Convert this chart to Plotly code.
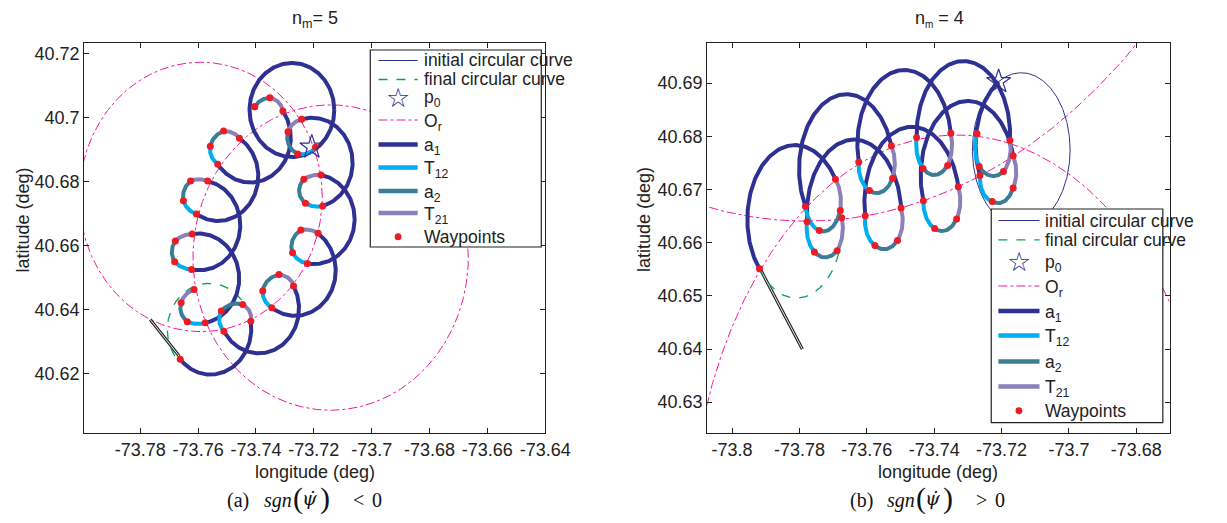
import numpy as np
import plotly.graph_objects as go

W, H = 1227, 523

# ================= Panel (a): n_m = 5  (values in degrees) =================
# coloured loop waypoints: [T21 end, T21/a2, a2/T12, T12 end]
a_loop_lon = [
    [-73.7307, -73.7352, -73.74044, -73.74044],
    [-73.72422, -73.72893, -73.72557, -73.71942],
    [-73.74572, -73.75119, -73.75579, -73.7532],
    [-73.71751, -73.72345, -73.72288, -73.71694],
    [-73.7567, -73.76261, -73.76509, -73.76059],
    [-73.76207, -73.76788, -73.76811, -73.76227],
    [-73.71852, -73.72446, -73.72735, -73.72221],
    [-73.72701, -73.73205, -73.73766, -73.73453],
    [-73.7614, -73.76586, -73.76375, -73.75757],
    [-73.74179, -73.74461, -73.75199, -73.75109],
]
a_loop_lat = [
    [40.702, 40.70615, 40.70334, 40.70334],
    [40.69941, 40.69554, 40.68858, 40.69067],
    [40.69348, 40.69576, 40.69098, 40.68537],
    [40.68203, 40.68069, 40.6732, 40.67236],
    [40.68016, 40.68016, 40.67401, 40.66986],
    [40.66362, 40.66144, 40.65498, 40.65261],
    [40.66384, 40.66487, 40.65779, 40.65448],
    [40.6474, 40.65105, 40.64584, 40.64063],
    [40.64637, 40.64219, 40.63626, 40.63595],
    [40.63648, 40.64169, 40.6396, 40.63336],
]
a_loop_clon = [-73.73497, -73.72254, -73.7484, -73.71751, -73.7578,
               -73.76116, -73.72019, -73.73027, -73.75848, -73.74639]
a_loop_clat = [40.70013, 40.69389, 40.68983, 40.67704, 40.67485,
               40.65801, 40.65925, 40.64521, 40.64116, 40.63617]
a_loop_rx = [0.00604, 0.00638, 0.00739, 0.00672, 0.00739, 0.00705, 0.00705, 0.00739, 0.00739, 0.00604]
a_loop_ry = [0.00562, 0.00562, 0.00593, 0.00499, 0.00624, 0.00562, 0.00562, 0.00593, 0.00562, 0.0053]

# a1 arcs: centre, radius, from-point, to-point (clockwise)
a_a1_clon = [-73.72058, -73.71986, -73.72652, -73.73905, -73.7563, -73.74195, -73.75315, -73.75948, -73.75982]
a_a1_clat = [40.68588, 40.66826, 40.65223, 40.64038, 40.63367, 40.69368, 40.68167, 40.66638, 40.64978]
a_a1_r = [0.01401, 0.01397, 0.0141, 0.01393, 0.01466, 0.01399, 0.01396, 0.01405, 0.01402]
a_a1_from_lon = [-73.72422, -73.71751, -73.71852, -73.72701, -73.74179, -73.7307, -73.74572, -73.7567, -73.76207]
a_a1_from_lat = [40.69941, 40.68203, 40.66384, 40.6474, 40.63648, 40.702, 40.69348, 40.68016, 40.66362]
a_a1_to_lon = [-73.71694, -73.72221, -73.73453, -73.75109, -73.7662, -73.7532, -73.76059, -73.76227, -73.75757]
a_a1_to_lat = [40.67236, 40.65448, 40.64063, 40.63336, 40.62462, 40.68537, 40.66986, 40.65261, 40.63595]
# full a1 circle at the top (initial circle, flown over)
a_full_clon = [-73.72758]
a_full_clat = [40.70231]
a_full_r = [0.01466]

a_start = (-73.7662, 40.62462)
a_p0 = (-73.7207, 40.69077)
a_final = dict(c=(-73.7563, 40.63367), r=0.01466, p_from=(-73.74494, 40.64303), p_to=(-73.76788, 40.62534))
a_or_clon = [-73.7591, -73.7142]
a_or_clat = [40.6752, 40.6563]
a_or_r = [0.042, 0.0476]
a_black_lon = [[-73.77684, -73.76677], [-73.77632, -73.76625]]
a_black_lat = [[40.63679, 40.62534], [40.63719, 40.62574]]

# ================= Panel (b): n_m = 4 =================
b_loop_lon = [
    [-73.76932, -73.76788, -73.77413, -73.77824],
    [-73.76745, -73.76883, -73.77557, -73.77775],
    [-73.75271, -73.75234, -73.75925, -73.76241],
    [-73.74984, -73.7509, -73.75761, -73.76048],
    [-73.73507, -73.73602, -73.74333, -73.74523],
    [-73.73286, -73.73335, -73.73988, -73.74322],
    [-73.71752, -73.71944, -73.72664, -73.7273],
    [-73.71657, -73.71657, -73.72278, -73.72644],
]
b_loop_lat = [
    [40.67195, 40.66605, 40.66229, 40.6668],
    [40.66468, 40.65847, 40.65823, 40.66392],
    [40.67821, 40.67214, 40.66981, 40.67515],
    [40.6665, 40.66041, 40.65947, 40.66505],
    [40.6806, 40.67451, 40.67395, 40.67977],
    [40.6705, 40.66443, 40.66267, 40.66787],
    [40.67921, 40.67338, 40.67432, 40.68047],
    [40.67633, 40.67026, 40.66774, 40.67263],
]
b_loop_clon = [-73.77306, -73.77277, -73.75752, -73.75522, -73.74025, -73.73795, -73.72241, -73.72155]
b_loop_clat = [40.66806, 40.66317, 40.67464, 40.66392, 40.67878, 40.6675, 40.6784, 40.67182]
b_loop_rx = [0.00518, 0.00547, 0.00518, 0.00547, 0.00518, 0.00518, 0.00518, 0.00518]
b_loop_ry = [0.00583, 0.00564, 0.00526, 0.00526, 0.00564, 0.00526, 0.00526, 0.00489]

b_a1_clon = [-73.7817, -73.76601, -73.7488, -73.73133, -73.7638, -73.74658, -73.72989, -73.71416]
b_a1_clat = [40.664, 40.67389, 40.67853, 40.68028, 40.66537, 40.66772, 40.6727, 40.67746]
b_a1_r = [0.0144, 0.0140, 0.0141, 0.0140, 0.0140, 0.0140, 0.0138, 0.0145]
b_a1_from_lon = [-73.79186, -73.77824, -73.76241, -73.74523, -73.77775, -73.76048, -73.74322, -73.72644]
b_a1_from_lat = [40.65509, 40.6668, 40.67515, 40.67977, 40.66392, 40.66505, 40.66787, 40.67263]
b_a1_to_lon = [-73.76932, -73.75271, -73.73507, -73.71752, -73.74984, -73.73286, -73.71657, -73.72088]
b_a1_to_lat = [40.67195, 40.67821, 40.6806, 40.67921, 40.6665, 40.6705, 40.67633, 40.6903]

b_start = (-73.79186, 40.65509)
b_p0 = (-73.72088, 40.6903)
b_init = dict(c=(-73.71416, 40.67746), r=0.0145)
b_final = dict(c=(-73.780886, 40.663152), r=0.01335, p_from=(-73.76745, 40.66468), p_to=(-73.79186, 40.65509))
b_or_clon = [-73.77808, -73.73339]
b_or_clat = [40.8255, 40.60076]
b_or_r = [0.16144, 0.0795]
b_black_lon = [[-73.79186, -73.77939], [-73.79135, -73.77888]]
b_black_lat = [[40.6549, 40.63986], [40.65508, 40.64004]]

# axis ranges / ticks
a_xrange = [-73.7994, -73.64]
a_yrange = [40.6016, 40.7231]
a_xticks = [-73.78, -73.76, -73.74, -73.72, -73.70, -73.68, -73.66, -73.64]
a_xtext = ["-73.78", "-73.76", "-73.74", "-73.72", "-73.7", "-73.68", "-73.66", "-73.64"]
a_yticks = [40.62, 40.64, 40.66, 40.68, 40.70, 40.72]
a_ytext = ["40.62", "40.64", "40.66", "40.68", "40.7", "40.72"]
b_xrange = [-73.8074, -73.6701]
b_yrange = [40.6242, 40.6975]
b_xticks = [-73.80, -73.78, -73.76, -73.74, -73.72, -73.70, -73.68]
b_xtext = ["-73.8", "-73.78", "-73.76", "-73.74", "-73.72", "-73.7", "-73.68"]
b_yticks = [40.63, 40.64, 40.65, 40.66, 40.67, 40.68, 40.69]
b_ytext = ["40.63", "40.64", "40.65", "40.66", "40.67", "40.68", "40.69"]

# legend entries (text) and their row positions in the figure (pixels from top)
legend_labels = ["initial circular curve", "final circular curve", "p<sub>0</sub>", "O<sub>r</sub>",
                 "a<sub>1</sub>", "T<sub>12</sub>", "a<sub>2</sub>", "T<sub>21</sub>", "Waypoints"]
legend_rows_a = [60.5, 79.5, 97.0, 120.0, 144.5, 167.5, 191.0, 213.0, 236.7]
legend_rows_b = [220.5, 239.8, 261.7, 286.0, 311.0, 335.5, 361.5, 386.5, 410.7]

C_A1 = "#2E3192"
C_T12 = "#00AEEF"
C_A2 = "#3B7D96"
C_T21 = "#8B80B9"
C_WP = "#ED1C24"
C_OR = "#F0189C"
C_FIN = "#00A651"
FONT = "Liberation Sans, Arial, sans-serif"


def arc(cx, cy, rx, ry, p0, p1, direction, n=160):
    a0 = np.arctan2((p0[1] - cy) / ry, (p0[0] - cx) / rx)
    a1 = np.arctan2((p1[1] - cy) / ry, (p1[0] - cx) / rx)
    r0 = np.hypot((p0[0] - cx) / rx, (p0[1] - cy) / ry)
    r1 = np.hypot((p1[0] - cx) / rx, (p1[1] - cy) / ry)
    if direction == 0:
        d = (a1 - a0 + np.pi) % (2 * np.pi) - np.pi
    elif direction < 0:
        d = -((a0 - a1) % (2 * np.pi))
    else:
        d = (a1 - a0) % (2 * np.pi)
    t = np.linspace(0, 1, n)
    ang = a0 + d * t
    rr = r0 + (r1 - r0) * t
    return list(cx + rr * rx * np.cos(ang)), list(cy + rr * ry * np.sin(ang))


def circle(cx, cy, r, n=400):
    t = np.linspace(0, 2 * np.pi, n)
    return list(cx + r * np.cos(t)), list(cy + r * np.sin(t))


def add(acc, xs, ys):
    acc[0].extend(xs + [None])
    acc[1].extend(ys + [None])


fig = go.Figure()


def panel(xa, ya, loop_lon, loop_lat, clon, clat, rx, ry,
          a1c_lon, a1c_lat, a1r, fr_lon, fr_lat, to_lon, to_lat,
          full_lon, full_lat, full_r, start, p0, final, init,
          or_lon, or_lat, or_r, blk_lon, blk_lat):
    common = dict(xaxis=xa, yaxis=ya, hoverinfo="skip", showlegend=False)
    orr = ([], [])
    for i in range(len(or_lon)):
        add(orr, *circle(or_lon[i], or_lat[i], or_r[i], 1200))
    fig.add_trace(go.Scatter(x=orr[0], y=orr[1], mode="lines", name="O_r",
                             line=dict(color=C_OR, width=1, dash="dashdot"), **common))
    if init is not None:
        ix, iy = circle(init["c"][0], init["c"][1], init["r"])
        fig.add_trace(go.Scatter(x=ix, y=iy, mode="lines", name="initial circular curve",
                                 line=dict(color=C_A1, width=1), **common))
    bl = ([], [])
    for i in range(len(blk_lon)):
        add(bl, blk_lon[i], blk_lat[i])
    fig.add_trace(go.Scatter(x=bl[0], y=bl[1], mode="lines",
                             line=dict(color="#222222", width=1.2), **common))
    fx, fy = arc(final["c"][0], final["c"][1], final["r"], final["r"],
                 final["p_from"], final["p_to"], final.get("dir", -1))
    fig.add_trace(go.Scatter(x=fx, y=fy, mode="lines", name="final circular curve",
                             line=dict(color=C_FIN, width=1.3, dash="dash"), **common))
    a1 = ([], [])
    for i in range(len(a1c_lon)):
        add(a1, *arc(a1c_lon[i], a1c_lat[i], a1r[i], a1r[i],
                     (fr_lon[i], fr_lat[i]), (to_lon[i], to_lat[i]), -1))
    for i in range(len(full_lon)):
        add(a1, *circle(full_lon[i], full_lat[i], full_r[i]))
    fig.add_trace(go.Scatter(x=a1[0], y=a1[1], mode="lines", name="a1",
                             line=dict(color=C_A1, width=4), **common))
    segs = {0: ([], []), 1: ([], []), 2: ([], [])}
    for k in range(len(loop_lon)):
        for s in range(3):
            p_a = (loop_lon[k][s], loop_lat[k][s])
            p_b = (loop_lon[k][s + 1], loop_lat[k][s + 1])
            add(segs[s], *arc(clon[k], clat[k], rx[k], ry[k], p_a, p_b, 0, 60))
    fig.add_trace(go.Scatter(x=segs[2][0], y=segs[2][1], mode="lines", name="T12",
                             line=dict(color=C_T12, width=4), **common))
    fig.add_trace(go.Scatter(x=segs[1][0], y=segs[1][1], mode="lines", name="a2",
                             line=dict(color=C_A2, width=4), **common))
    fig.add_trace(go.Scatter(x=segs[0][0], y=segs[0][1], mode="lines", name="T21",
                             line=dict(color=C_T21, width=4), **common))
    wx = [v for row in loop_lon for v in row] + [start[0]]
    wy = [v for row in loop_lat for v in row] + [start[1]]
    fig.add_trace(go.Scatter(x=wx, y=wy, mode="markers", name="Waypoints",
                             marker=dict(color=C_WP, size=7), **common))
    fig.add_trace(go.Scatter(x=[p0[0]], y=[p0[1]], mode="markers", name="p0",
                             marker=dict(symbol="star-open", size=18, color=C_A1,
                                         line=dict(color=C_A1, width=1.2)), **common))


panel("x", "y", a_loop_lon, a_loop_lat, a_loop_clon, a_loop_clat, a_loop_rx, a_loop_ry,
      a_a1_clon, a_a1_clat, a_a1_r, a_a1_from_lon, a_a1_from_lat, a_a1_to_lon, a_a1_to_lat,
      a_full_clon, a_full_clat, a_full_r, a_start, a_p0, dict(a_final, dir=1), None,
      a_or_clon, a_or_clat, a_or_r, a_black_lon, a_black_lat)
panel("x2", "y2", b_loop_lon, b_loop_lat, b_loop_clon, b_loop_clat, b_loop_rx, b_loop_ry,
      b_a1_clon, b_a1_clat, b_a1_r, b_a1_from_lon, b_a1_from_lat, b_a1_to_lon, b_a1_to_lat,
      [], [], [], b_start, b_p0, dict(b_final, dir=-1), b_init,
      b_or_clon, b_or_clat, b_or_r, b_black_lon, b_black_lat)


def px(x):
    return x / W


def py(y):
    return 1 - y / H


axis_common = dict(showline=True, linecolor="#222222", linewidth=1, mirror="ticks",
                   ticks="inside", ticklen=5, tickcolor="#222222", showgrid=False,
                   zeroline=False, tickfont=dict(family=FONT, size=18, color="#222222"))
Y0, Y1 = 43.3, 433

fig.update_layout(
    width=W, height=H, margin=dict(l=0, r=0, t=0, b=0),
    paper_bgcolor="white", plot_bgcolor="white", showlegend=False,
    xaxis=dict(domain=[px(86), px(557)], range=a_xrange, tickvals=a_xticks, ticktext=a_xtext,
               anchor="y", **axis_common),
    yaxis=dict(domain=[py(Y1), py(Y0)], range=a_yrange, tickvals=a_yticks, ticktext=a_ytext,
               anchor="x", **axis_common),
    xaxis2=dict(domain=[px(722.5), px(1195)], range=b_xrange, tickvals=b_xticks, ticktext=b_xtext,
                anchor="y2", **axis_common),
    yaxis2=dict(domain=[py(Y1), py(Y0)], range=b_yrange, tickvals=b_yticks, ticktext=b_ytext,
                anchor="x2", **axis_common),
)

# ---------- legends (frame + samples + labels) ----------
shapes = []
annotations = []
leg_font = dict(family=FONT, size=17.5, color="#222222")
for (box, rows, lx0, lx1, tx) in [((378.3, 50, 553, 247), legend_rows_a, 386.7, 426.7, 431.0),
                                  ((1012.7, 209, 1188, 422.7), legend_rows_b, 1020.0, 1062.0, 1066.0)]:
    shapes.append(dict(type="rect", xref="paper", yref="paper", x0=px(box[0]), x1=px(box[2]),
                       y0=py(box[3]), y1=py(box[1]), line=dict(color="#222222", width=1.2),
                       fillcolor="white", layer="above"))
    styles = [dict(color=C_A1, width=1), dict(color=C_FIN, width=1.3, dash="dash"), None,
              dict(color=C_OR, width=1, dash="dashdot"), dict(color=C_A1, width=4.5),
              dict(color=C_T12, width=4.5), dict(color=C_A2, width=4.5), dict(color=C_T21, width=4.5), None]
    xc = (lx0 + lx1) / 2
    for i, lab in enumerate(legend_labels):
        yy = rows[i]
        if styles[i] is not None:
            shapes.append(dict(type="line", xref="paper", yref="paper", x0=px(lx0), x1=px(lx1),
                               y0=py(yy), y1=py(yy), line=styles[i], layer="above"))
        if i == 8:
            shapes.append(dict(type="circle", xref="paper", yref="paper", x0=px(xc - 3.5),
                               x1=px(xc + 3.5), y0=py(yy + 3.5), y1=py(yy - 3.5),
                               fillcolor=C_WP, line=dict(color=C_WP, width=0), layer="above"))
        if i == 2:
            annotations.append(dict(x=px(xc), y=py(yy), text="☆", xanchor="center", yanchor="middle",
                                    font=dict(family="DejaVu Sans", size=27, color=C_A1)))
        dy = 2 if "<sub>" in lab else 0
        annotations.append(dict(x=px(tx), y=py(yy + dy), text=lab, xanchor="left", yanchor="middle",
                                font=leg_font))
fig.update_layout(shapes=shapes)

ann_font = dict(family=FONT, size=18, color="#222222")
annotations += [
    dict(x=px(322), y=py(19), text="n<sub>m</sub>= 5", font=ann_font),
    dict(x=px(960), y=py(19), text="n<sub><span style='font-size:10px'>m</span></sub> = 4", font=ann_font),
    dict(x=px(321.5), y=py(472), text="longitude (deg)", font=ann_font),
    dict(x=px(958.7), y=py(472), text="longitude (deg)", font=ann_font),
    dict(x=px(23), y=py(220), text="latitude (deg)", font=ann_font, textangle=-90),
    dict(x=px(658), y=py(220), text="latitude (deg)", font=ann_font, textangle=-90),
]
serif = "Liberation Serif, DejaVu Serif, serif"
psi = "DejaVu Serif, serif"
cap_parts = [("(a)", 243.5, 20, False, 500, serif), ("sgn", 284, 20, True, 500, serif),
             ("(", 304, 30, False, 498, serif), ("ψ\u0307", 317, 19, True, 498, psi),
             (")", 332, 30, False, 498, serif), ("&lt;", 366, 20, False, 500, serif),
             ("0", 385, 20, False, 500, serif)]
for shift, sign in [(0, None), (636.5, "&gt;")]:
    for (t, x, s, it, y, fam) in cap_parts:
        if t == "&lt;" and sign:
            t = sign
        if t == "(a)" and shift:
            t = "(b)"
        annotations.append(dict(x=px(x + shift), y=py(y), text=("<i>%s</i>" % t) if it else t,
                                font=dict(family=fam, size=s, color="#111111")))
for a in annotations:
    a.setdefault("xanchor", "center")
    a.setdefault("yanchor", "middle")
    a.update(xref="paper", yref="paper", showarrow=False)
fig.update_layout(annotations=annotations)

fig.write_html("out.html")
